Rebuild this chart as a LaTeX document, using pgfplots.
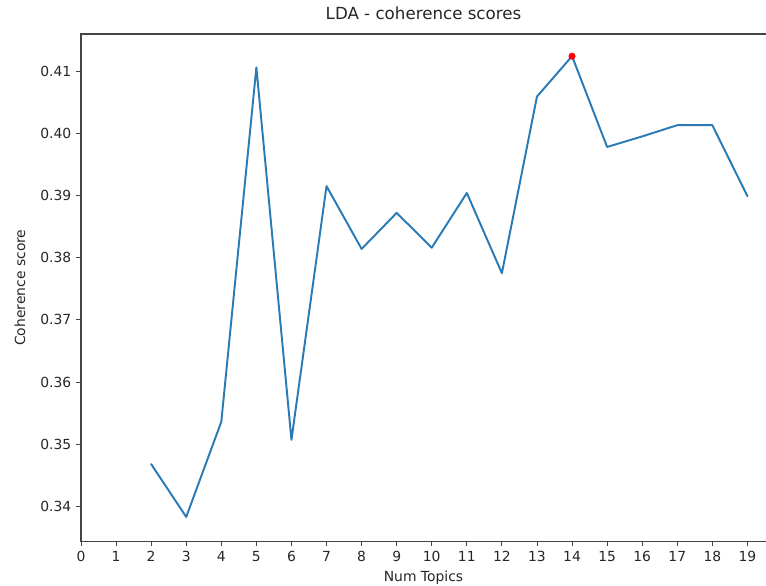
\documentclass[border=0pt]{standalone}
\usepackage{fontspec}
\setmainfont{DejaVu Sans}
\usepackage{pgfplots}
\pgfplotsset{compat=1.18}
\definecolor{mplblue}{HTML}{2A7AB5}
\definecolor{spine}{HTML}{444444}

\begin{document}
\begin{tikzpicture}
\begin{axis}[
    scale only axis,
    width=493pt,
    height=365pt,
    xmin=0, xmax=19.53,
    ymin=0.3344, ymax=0.41596,
    xtick={0,...,19},
    ytick={0.34,0.35,0.36,0.37,0.38,0.39,0.40,0.41},
    tick pos=left,
    tick align=outside,
    major tick length=3.5pt,
    tick style={spine, line width=0.6pt},
    axis line style={draw=none},
    ticklabel style={font=\fontsize{10}{12}\selectfont, text=black!85},
    /pgf/number format/assume math mode=true,
    yticklabel style={/pgf/number format/.cd, fixed, fixed zerofill, precision=2},
    scaled y ticks=false,
    title={LDA - coherence scores},
    title style={font=\fontsize{12}{14}\selectfont, text=black!85, yshift=1pt},
    xlabel={Num Topics},
    ylabel={Coherence score},
    label style={font=\fontsize{10}{12}\selectfont, text=black!85},
    ylabel style={at={(axis description cs:-0.089,0.5)}, anchor=center},
    clip=false,
]
\addplot[mplblue, line width=1.4pt, line join=round, line cap=round] coordinates {
    (2,0.3468) (3,0.3383) (4,0.3536) (5,0.4106) (6,0.3507)
    (7,0.3915) (8,0.3814) (9,0.3872) (10,0.3816) (11,0.3904)
    (12,0.3775) (13,0.4059) (14,0.4124) (15,0.3978) (16,0.3995)
    (17,0.4013) (18,0.4013) (19,0.3899)
};
\addplot[only marks, mark=*, mark size=2.3pt, red, mark options={draw=red, fill=red}] coordinates {(14,0.4124)};
\end{axis}
\draw[spine, line width=0.8pt] (current axis.south east) -- (current axis.south west) -- (current axis.north west) -- (current axis.north east);
\pgfresetboundingbox
\path[use as bounding box] ([shift={(-58.3pt,-31.7pt)}]current axis.south west) rectangle ([shift={(0pt,24.5pt)}]current axis.north east);
\end{tikzpicture}
\end{document}
